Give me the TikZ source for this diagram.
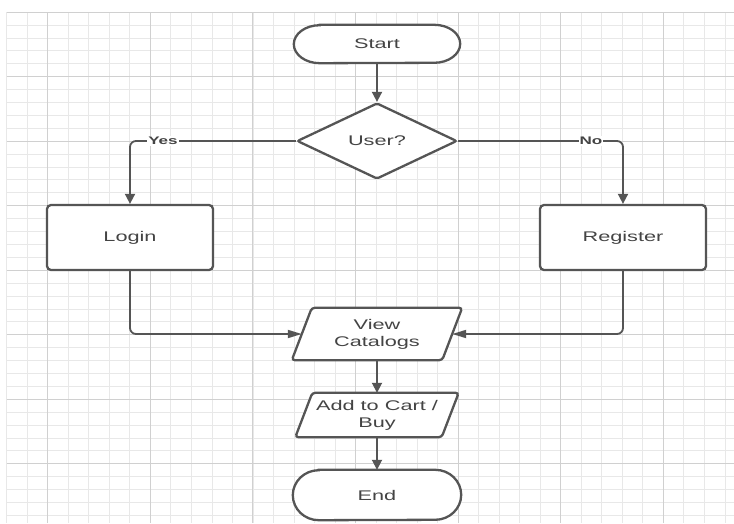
\documentclass[tikz,border=0pt]{standalone}
\usepackage{fontspec}
\newfontfamily\wf[FakeStretch=1.55]{Liberation Sans}
\usetikzlibrary{arrows.meta,shapes.geometric}
\definecolor{ln}{HTML}{555555}
\definecolor{tx}{HTML}{444444}
\definecolor{gmin}{HTML}{E8E8E8}
\definecolor{gmaj}{HTML}{D0D0D0}
\pgfdeclarelayer{grid}
\pgfdeclarelayer{bg}
\pgfsetlayers{grid,bg,main}
\newcommand\mystadium[3]{%
  \begin{pgfonlayer}{bg}
  \draw[shp] ([xshift=#2]#1.north west) -- ([xshift=-#2]#1.north east)
    arc[start angle=90,end angle=-90,x radius=#2,y radius=#3]
    -- ([xshift=#2]#1.south west)
    arc[start angle=270,end angle=90,x radius=#2,y radius=#3] -- cycle;
  \end{pgfonlayer}}
\newcommand\mypara[2]{%
  \begin{pgfonlayer}{bg}
  \draw[shp,rounded corners=3pt] ([xshift=#2]#1.north west) -- ([xshift=#2]#1.north east)
    -- ([xshift=-#2]#1.south east) -- ([xshift=-#2]#1.south west) -- cycle;
  \end{pgfonlayer}}
\begin{document}
\begin{tikzpicture}[x=1pt,y=1pt,
  lbl/.style={font=\wf\fontsize{14}{17}\selectfont, text=tx, align=center, inner sep=0pt},
  yn/.style={font=\wf\bfseries\fontsize{11}{13}\selectfont, text=tx, inner sep=1pt, fill=white},
  shp/.style={draw=ln, line width=2.3pt, fill=white},
  box/.style={lbl, shp, rounded corners=4pt, minimum width=166pt, minimum height=65pt},
  term/.style={lbl, minimum width=166pt, minimum height=38pt},
  conn/.style={draw=ln, line width=1.8pt},
  vtip/.style={-{Triangle[length=10pt,width=10pt]}},
  htip/.style={-{Triangle[length=14pt,width=8pt]}}]
\useasboundingbox (0,0) rectangle (734,523);
\begin{pgfonlayer}{grid}
\fill[white] (0,0) rectangle (734,523);
\foreach \i in {0,...,35} {\pgfmathsetmacro\xx{6.7+\i*20.52}
  \draw[gmin,line width=0.8pt] (\xx,0) -- (\xx,510.8);}
\foreach \j in {0,...,39} {\pgfmathsetmacro\yy{523-12.2-\j*12.9}
  \draw[gmin,line width=0.8pt] (6.7,\yy) -- (734,\yy);}
\foreach \i in {2,7,...,32} {\pgfmathsetmacro\xx{6.7+\i*20.52}
  \draw[gmaj,line width=0.9pt] (\xx,0) -- (\xx,510.8);}
\foreach \j in {0,5,...,35} {\pgfmathsetmacro\yy{523-12.2-\j*12.9}
  \draw[gmaj,line width=0.9pt] (6.7,\yy) -- (734,\yy);}
\end{pgfonlayer}

\node[term] (start) at (377,479) {Start};
\mystadium{start}{26pt}{19pt}
\node[lbl, diamond, shp, rounded corners=2pt, minimum width=160pt, minimum height=76pt] (user) at (377,382) {User?};
\node[box] (login) at (130,285.5) {Login};
\node[box] (register) at (623,285.5) {Register};
\node[lbl, minimum width=150pt, minimum height=52pt] (vc) at (377,189) {View\\Catalogs};
\mypara{vc}{10pt}
\node[lbl, minimum width=146pt, minimum height=44pt] (add) at (377,108) {Add to Cart /\\Buy};
\mypara{add}{8.5pt}
\node[term, minimum width=168pt, minimum height=50pt] (end) at (377,28) {End};
\mystadium{end}{26pt}{25pt}

\draw[conn,vtip] (start.south) -- (user.north);
\draw[conn,vtip,rounded corners=6pt] (user.west) -| (login.north);
\draw[conn,vtip,rounded corners=6pt] (user.east) -| (register.north);
\draw[conn,htip,rounded corners=6pt] (login.south) |- (vc.west);
\draw[conn,htip,rounded corners=6pt] (register.south) |- (vc.east);
\draw[conn,vtip] (vc.south) -- (add.north);
\draw[conn,vtip] (add.south) -- (end.north);
\node[yn] (yes) at (163,382) {Yes};
\node[yn] (no) at (591,382) {No};
\end{tikzpicture}
\end{document}
